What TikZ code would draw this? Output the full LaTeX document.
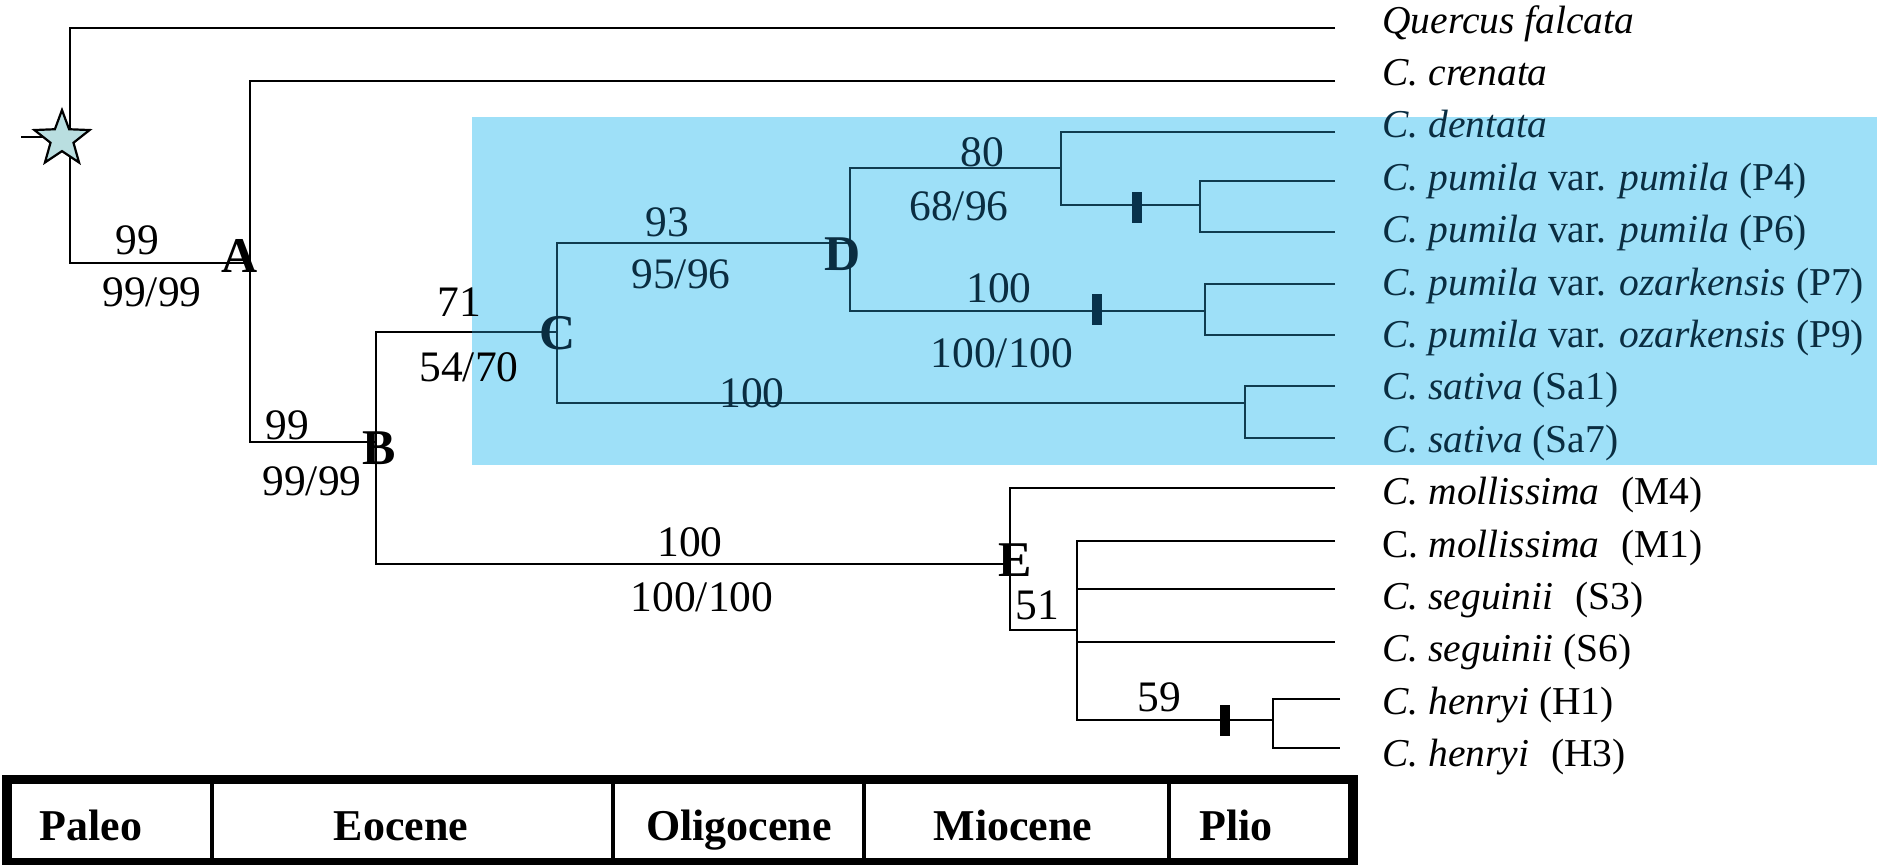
\documentclass[tikz,border=0pt]{standalone}
\usepackage{fontspec}
\setmainfont{Liberation Serif}
\usetikzlibrary{shapes.geometric}
\definecolor{boxblue}{RGB}{158,224,248}
\definecolor{deep}{RGB}{16,60,80}
\definecolor{deeptext}{RGB}{10,45,65}
\definecolor{barc}{RGB}{8,50,75}
\definecolor{starfill}{RGB}{185,222,224}
\begin{document}
\begin{tikzpicture}[x=0.5pt,y=-0.5pt,
  tree/.style={line width=1.3pt,draw=black},
  intree/.style={line width=1.3pt,draw=deep},
  leaf/.style={anchor=base west,inner sep=0pt,font=\fontsize{19.75}{24}\selectfont},
  num/.style={inner sep=0pt,font=\fontsize{21.75}{26}\selectfont},
  nodelbl/.style={inner sep=0pt,font=\fontsize{25}{30}\selectfont\bfseries},
  period/.style={anchor=base,inner sep=0pt,font=\fontsize{22}{26}\selectfont\bfseries},
  barmark/.style={fill=barc,minimum width=5pt,minimum height=15.5pt,inner sep=0pt},
  ]
\useasboundingbox (0,0) rectangle (1877,864);
% highlighted clade
\fill[boxblue] (472,117) rectangle (1877,465);
% internal nodes
\coordinate (R) at (70,137);
\coordinate (A) at (250,263);
\coordinate (B) at (376,442);
\coordinate (C) at (557,332);
\coordinate (Cin) at (472,332);
\coordinate (D) at (850,243);
\coordinate (F) at (1061,168);
\coordinate (G) at (1200,205);
\coordinate (H) at (1205,311);
\coordinate (I) at (1245,403);
\coordinate (E) at (1010,564);
\coordinate (J) at (1077,630);
\coordinate (K) at (1273,720);
\coordinate (stub) at (21,137);
% leaf ends
\coordinate (lQ) at (1335,28);
\coordinate (lCr) at (1335,81);
\coordinate (lDe) at (1335,132);
\coordinate (lP4) at (1335,181);
\coordinate (lP6) at (1335,232);
\coordinate (lP7) at (1335,284);
\coordinate (lP9) at (1335,335);
\coordinate (lSa1) at (1335,386);
\coordinate (lSa7) at (1335,438);
\coordinate (lM4) at (1335,488);
\coordinate (lM1) at (1335,541);
\coordinate (lS3) at (1335,589);
\coordinate (lS6) at (1335,642);
\coordinate (lH1) at (1340,699);
\coordinate (lH3) at (1340,748);
% branches
\draw[tree] (stub) -- (R);
\draw[tree] (lQ) -| (R) |- (A);
\draw[tree] (lCr) -| (A) |- (B);
\draw[tree] (Cin) -| (B) |- (E);
\draw[intree] (Cin) -- (C);
\draw[intree] (D) -| (C) |- (I);
\draw[intree] (F) -| (D) |- (H);
\draw[intree] (lDe) -| (F) |- (G);
\draw[intree] (lP4) -| (G) |- (lP6);
\draw[intree] (lP7) -| (H) |- (lP9);
\draw[intree] (lSa1) -| (I) |- (lSa7);
\draw[tree] (lM4) -| (E) |- (J);
\draw[tree] (lM1) -| (J) |- (K);
\draw[tree] (J |- lS3) -- (lS3);
\draw[tree] (J |- lS6) -- (lS6);
\draw[tree] (lH1) -| (K) |- (lH3);
% root star
\node[star,star points=5,star point ratio=2.4,draw,line width=1.1pt,fill=starfill,minimum size=29pt,inner sep=0pt] (star) at (62,139) {};
% bars
\node[barmark] (bar1) at (1137,207) {};
\node[barmark] (bar2) at (1097,309) {};
\node[barmark,fill=black] (bar3) at (1225,720) {};
% support values and node letters
\node[num] (sA1) at (137,240) {99};
\node[num] (sA2) at (152,292) {99/99};
\node[nodelbl] (lblA) at (240,256) {A};
\node[num] (sB1) at (287,425) {99};
\node[num] (sB2) at (312,481) {99/99};
\node[nodelbl] (lblB) at (379,448) {B};
\node[num] (sC1) at (459,302) {71};
\node[num] (sC2) at (469,367) {54/70};
\node[nodelbl,text=deeptext] (lblC) at (558,333) {C};
\node[num,text=deeptext] (sD1) at (667,222) {93};
\node[num,text=deeptext] (sD2) at (681,274) {95/96};
\node[nodelbl,text=deeptext] (lblD) at (843,254) {D};
\node[num,text=deeptext] (sF1) at (982,152) {80};
\node[num,text=deeptext] (sF2) at (959,206) {68/96};
\node[num,text=deeptext] (sH1) at (999,288) {100};
\node[num,text=deeptext] (sH2) at (1002,353) {100/100};
\node[num,text=deeptext] (sI1) at (752,393) {100};
\node[num] (sE1) at (690,542) {100};
\node[num] (sE2) at (702,597) {100/100};
\node[nodelbl] (lblE) at (1015,560) {E};
\node[num] (sJ) at (1037,605) {51};
\node[num] (sK) at (1159,697) {59};
% taxon labels
\node[leaf] (tQ) at (1382,33) {\textit{Quercus falcata}};
\node[leaf] (tCr) at (1382,85.4) {\textit{C. crenata}};
\node[leaf,text=deeptext] (tDe) at (1382,137.8) {\textit{C. dentata}};
\node[leaf,text=deeptext] (tP4) at (1382,190.2) {\textit{C. pumila} var. \textit{pumila} (P4)};
\node[leaf,text=deeptext] (tP6) at (1382,242.6) {\textit{C. pumila} var. \textit{pumila} (P6)};
\node[leaf,text=deeptext] (tP7) at (1382,295) {\textit{C. pumila} var. \textit{ozarkensis} (P7)};
\node[leaf,text=deeptext] (tP9) at (1382,347.4) {\textit{C. pumila} var. \textit{ozarkensis} (P9)};
\node[leaf,text=deeptext] (tSa1) at (1382,399.8) {\textit{C. sativa} (Sa1)};
\node[leaf,text=deeptext] (tSa7) at (1382,452.2) {\textit{C. sativa} (Sa7)};
\node[leaf] (tM4) at (1382,504.6) {\textit{C. mollissima}\hspace{0.3em} (M4)};
\node[leaf] (tM1) at (1382,557) {C. \textit{mollissima}\hspace{0.3em} (M1)};
\node[leaf] (tS3) at (1382,609.4) {\textit{C. seguinii}\hspace{0.3em} (S3)};
\node[leaf] (tS6) at (1382,661.8) {\textit{C. seguinii} (S6)};
\node[leaf] (tH1) at (1382,714.2) {\textit{C. henryi} (H1)};
\node[leaf] (tH3) at (1382,766.6) {\textit{C. henryi}\hspace{0.3em} (H3)};
% geological time scale
\draw[line width=4.75pt,line join=miter] (7,875) -- (7,779.5) -- (1353,779.5) -- (1353,875);
\draw[line width=4pt] (7,862) -- (1353,862);
\foreach \xx in {212,613,864,1169} \draw[line width=2pt] (\xx,784) -- (\xx,858);
\node[period] (pPal) at (91,840) {Paleo};
\node[period] (pEo) at (401,840) {Eocene};
\node[period] (pOl) at (739,840) {Oligocene};
\node[period] (pMi) at (1013,840) {Miocene};
\node[period] (pPl) at (1236,840) {Plio};
\end{tikzpicture}
\end{document}
